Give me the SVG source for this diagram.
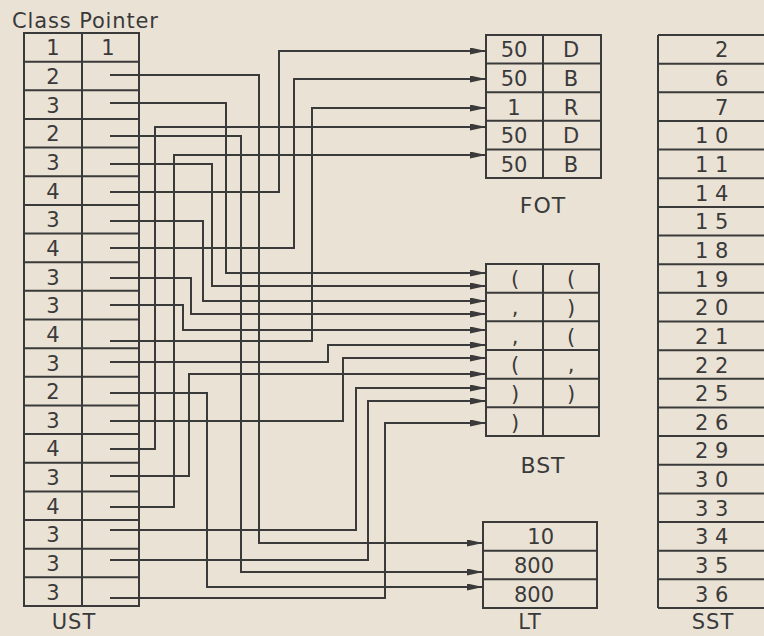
<svg xmlns="http://www.w3.org/2000/svg" width="764" height="636" viewBox="0 0 764 636">
<style>
.bg{fill:#ebe2d6}
.tb{fill:none;stroke:#3a3a3a;stroke-width:2}
.c{fill:none;stroke:#3a3a3a;stroke-width:2;marker-end:url(#ah)}
text{font-family:"DejaVu Sans","Liberation Sans",sans-serif;font-size:21px;fill:#3a3a3a}
.m{text-anchor:middle}
.e{text-anchor:end}
.s{text-anchor:end;letter-spacing:6.6px}
.lb{font-size:22px;text-anchor:middle;letter-spacing:1px}
.lb2{font-size:21px;text-anchor:middle;letter-spacing:1px}
</style>
<defs>
<marker id="ah" markerUnits="userSpaceOnUse" markerWidth="17" markerHeight="8" refX="16" refY="3.5" orient="auto">
<path d="M0,0 L16,3.5 L0,7 z" fill="#3a3a3a"/>
</marker>
</defs>
<rect class="bg" x="0" y="0" width="764" height="636"/>
<text x="12" y="28" textLength="146">Class Pointer</text>

<g id="UST">
<rect class="tb" x="24" y="33" width="115" height="573"/>
<path class="tb" d="M82,33V606 M24,61.65H139 M24,90.3H139 M24,118.95H139 M24,147.6H139 M24,176.25H139 M24,204.9H139 M24,233.55H139 M24,262.2H139 M24,290.85H139 M24,319.5H139 M24,348.15H139 M24,376.8H139 M24,405.45H139 M24,434.1H139 M24,462.75H139 M24,491.4H139 M24,520.05H139 M24,548.7H139 M24,577.35H139"/>
<g class="m">
<text x="53" y="55.3">1</text>
<text x="108" y="55.3">1</text>
<text x="53" y="84">2</text>
<text x="53" y="112.6">3</text>
<text x="53" y="141.3">2</text>
<text x="53" y="169.9">3</text>
<text x="53" y="198.6">4</text>
<text x="53" y="227.2">3</text>
<text x="53" y="255.9">4</text>
<text x="53" y="284.5">3</text>
<text x="53" y="313.2">3</text>
<text x="53" y="341.8">4</text>
<text x="53" y="370.5">3</text>
<text x="53" y="399.1">2</text>
<text x="53" y="427.8">3</text>
<text x="53" y="456.4">4</text>
<text x="53" y="485.1">3</text>
<text x="53" y="513.7">4</text>
<text x="53" y="542.4">3</text>
<text x="53" y="571">3</text>
<text x="53" y="599.7">3</text>
</g>
<text class="lb2" x="74" y="629">UST</text>
</g>

<g id="FOT">
<rect class="tb" x="486" y="35" width="115" height="143"/>
<path class="tb" d="M543,35V178 M486,63.6H601 M486,92.2H601 M486,120.8H601 M486,149.4H601"/>
<g class="m">
<text x="514" y="57.3">50</text><text x="571" y="57.3">D</text>
<text x="514" y="85.9">50</text><text x="571" y="85.9">B</text>
<text x="514" y="114.5">1</text><text x="571" y="114.5">R</text>
<text x="514" y="143.1">50</text><text x="571" y="143.1">D</text>
<text x="514" y="171.7">50</text><text x="571" y="171.7">B</text>
</g>
<text class="lb" x="543" y="213">FOT</text>
</g>

<g id="BST">
<rect class="tb" x="486" y="264" width="113" height="172"/>
<path class="tb" d="M543,264V436 M486,292.67H599 M486,321.33H599 M486,350H599 M486,378.67H599 M486,407.33H599"/>
<g class="m">
<text x="515" y="286.3">(</text><text x="571" y="286.3">(</text>
<text x="515" y="315">,</text><text x="571" y="315">)</text>
<text x="515" y="343.7">,</text><text x="571" y="343.7">(</text>
<text x="515" y="372.3">(</text><text x="571" y="372.3">,</text>
<text x="515" y="401">)</text><text x="571" y="401">)</text>
<text x="515" y="429.7">)</text>
</g>
<text class="lb" x="543" y="473">BST</text>
</g>

<g id="LT">
<rect class="tb" x="483" y="522" width="114" height="86"/>
<path class="tb" d="M483,550.67H597 M483,579.33H597"/>
<g class="e">
<text x="554" y="544.3">10</text>
<text x="554" y="573">800</text>
<text x="554" y="601.7">800</text>
</g>
<text class="lb2" x="530" y="629">LT</text>
</g>

<g id="SST">
<path class="tb" d="M658,35V608 M658,35H764 M658,63.65H764 M658,92.3H764 M658,120.95H764 M658,149.6H764 M658,178.25H764 M658,206.9H764 M658,235.55H764 M658,264.2H764 M658,292.85H764 M658,321.5H764 M658,350.15H764 M658,378.8H764 M658,407.45H764 M658,436.1H764 M658,464.75H764 M658,493.4H764 M658,522.05H764 M658,550.7H764 M658,579.35H764 M658,608H764"/>
<g class="s">
<text x="735" y="57.3">2</text>
<text x="735" y="86">6</text>
<text x="735" y="114.6">7</text>
<text x="735" y="143.3">10</text>
<text x="735" y="171.9">11</text>
<text x="735" y="200.6">14</text>
<text x="735" y="229.2">15</text>
<text x="735" y="257.9">18</text>
<text x="735" y="286.5">19</text>
<text x="735" y="315.2">20</text>
<text x="735" y="343.8">21</text>
<text x="735" y="372.5">22</text>
<text x="735" y="401.1">25</text>
<text x="735" y="429.8">26</text>
<text x="735" y="458.4">29</text>
<text x="735" y="487.1">30</text>
<text x="735" y="515.7">33</text>
<text x="735" y="544.4">34</text>
<text x="735" y="573">35</text>
<text x="735" y="601.7">36</text>
</g>
<text class="lb2" x="713" y="629">SST</text>
</g>

<g id="connectors">
<polyline class="c" points="110,75 259,75 259,543 483,543"/>
<polyline class="c" points="110,103 226,103 226,273 486,273"/>
<polyline class="c" points="110,136 241,136 241,572 483,572"/>
<polyline class="c" points="110,164 212,164 212,286 486,286"/>
<polyline class="c" points="110,192 279,192 279,51 486,51"/>
<polyline class="c" points="110,221 203,221 203,301 486,301"/>
<polyline class="c" points="110,248 294,248 294,79 486,79"/>
<polyline class="c" points="110,278 191,278 191,314 486,314"/>
<polyline class="c" points="110,305 183,305 183,330 486,330"/>
<polyline class="c" points="110,341 312,341 312,108 486,108"/>
<polyline class="c" points="110,362 328,362 328,345 486,345"/>
<polyline class="c" points="110,393 207,393 207,587 483,587"/>
<polyline class="c" points="110,421 343,421 343,358 486,358"/>
<polyline class="c" points="110,449 155,449 155,127 486,127"/>
<polyline class="c" points="110,476 189,476 189,374 486,374"/>
<polyline class="c" points="110,507 174,507 174,155 486,155"/>
<polyline class="c" points="110,530 356,530 356,388 486,388"/>
<polyline class="c" points="110,560 368,560 368,401 486,401"/>
<polyline class="c" points="110,598 385,598 385,423 486,423"/>
</g>
</svg>
